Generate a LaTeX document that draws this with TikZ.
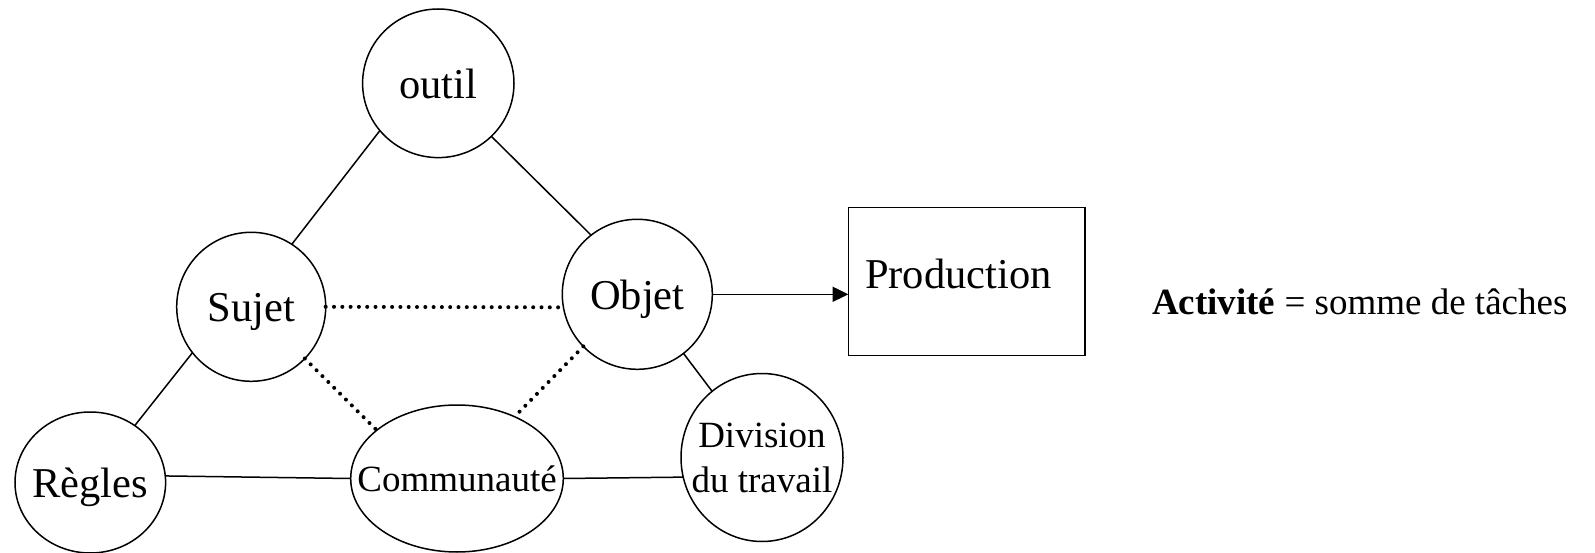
\documentclass[tikz,border=0pt]{standalone}
\usepackage{fontspec}
\setmainfont{Liberation Serif}
\usetikzlibrary{shapes.geometric,arrows.meta}
\newcommand\fbig{\fontsize{42.5}{48}\selectfont}
\newcommand\fsmall{\fontsize{37}{45}\selectfont}
\begin{document}
\begin{tikzpicture}[x=1pt,y=-1pt,
  every node/.style={inner sep=0pt, outer sep=0pt},
  ent/.style={draw, ellipse, line width=1.5pt, inner xsep=-60pt, inner ysep=-20pt,
              font=\fbig, text height=30pt, text depth=0pt},
  entsmall/.style={ent, font=\fsmall, text height=26pt},
  link/.style={line width=1.5pt},
  dotlink/.style={line width=4pt, line cap=round, dash pattern=on 0pt off 8.3pt},
  boxstyle/.style={draw, rectangle, line width=1.5pt},
]
\useasboundingbox (0,0) rectangle (1595,553);

\node[ent, minimum width=151.4pt, minimum height=148.6pt] (outil) at (438.3,83.3) {outil};
\node[ent, minimum width=149pt, minimum height=149pt] (sujet) at (251.2,306.8) {Sujet};
\node[ent, minimum width=150pt, minimum height=150pt] (objet) at (637.3,294.3) {Objet};
\node[ent, minimum width=150.6pt, minimum height=141pt] (regles) at (90.3,482.5) {Règles};
\node[entsmall, minimum width=212.6pt, minimum height=147pt] (comm) at (457,478.5) {Communauté};
\node[draw, ellipse, line width=1.5pt, inner xsep=-60pt, inner ysep=-20pt,
      minimum width=162pt, minimum height=168pt, font=\fsmall, align=center] (div) at (762,457.5) {Division\\du travail};

\node[boxstyle, minimum width=236.7pt, minimum height=148pt] (prod) at (966.7,281.7) {};
\node[anchor=base west, font=\fbig] (prodtxt) at (865,289) {Production};
\node[anchor=base west, font=\fsmall] (activite) at (1152,314) {\textbf{Activité} = somme de tâches};

% solid links
\draw[link] (outil.219.7) -- (sujet.57.7);
\draw[link] (outil.315.4) -- (objet.128.7);
\draw[link] (sujet.218.6) -- (regles.52.3);
\draw[link] (regles.5.5) -- (comm.west);
\draw[link] (comm.east) -- (div.194.8);
\draw[link] (objet.308.3) -- (div.127.6);

% arrow
\draw[link, -{Triangle[length=15.7pt, width=15pt]}] (objet.east) -- (objet.east -| prod.west);

% dotted links
\draw[dotlink] (sujet.east) -- (objet.190);
\draw[dotlink] (sujet.316.6) -- (comm.149.6);
\draw[dotlink] (objet.224.7) -- (comm.47.2);
\end{tikzpicture}
\end{document}
